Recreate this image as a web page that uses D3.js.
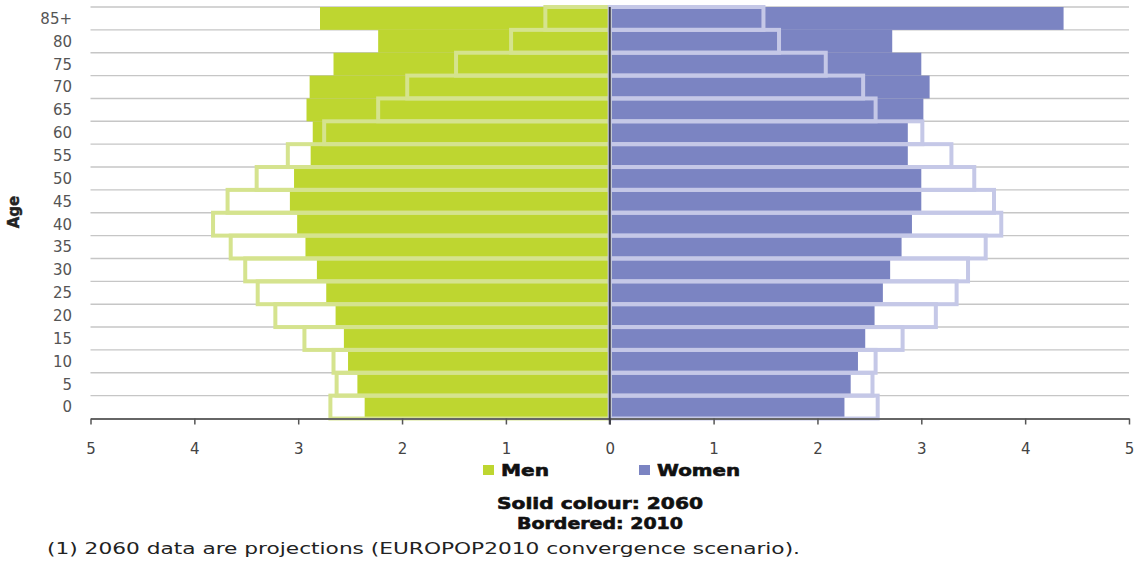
<!DOCTYPE html>
<html>
<head>
<meta charset="utf-8">
<script src="https://cdn.jsdelivr.net/npm/d3@7/dist/d3.min.js"></script>
<style>
  html, body { margin: 0; padding: 0; background: #fff; }
  svg { display: block; }
  text { font-family: "DejaVu Sans", Verdana, sans-serif; }
</style>
</head>
<body>
<svg id="chart" width="1139" height="565"></svg>
<script>
// ---- Data (percent of total population) ----
const ages = ["0","5","10","15","20","25","30","35","40","45","50","55","60","65","70","75","80","85+"];
const men2060   = [2.36,2.43,2.52,2.56,2.64,2.73,2.82,2.93,3.01,3.08,3.04,2.88,2.86,2.92,2.89,2.66,2.23,2.79];
const men2010   = [2.69,2.63,2.66,2.94,3.22,3.39,3.51,3.65,3.82,3.68,3.40,3.10,2.75,2.23,1.95,1.48,0.95,0.62];
const women2060 = [2.26,2.32,2.39,2.46,2.55,2.63,2.70,2.81,2.91,3.00,3.00,2.87,2.87,3.02,3.08,3.00,2.72,4.37];
const women2010 = [2.58,2.53,2.56,2.82,3.14,3.34,3.45,3.62,3.77,3.70,3.51,3.29,3.01,2.56,2.44,2.08,1.63,1.48];
const xTicks = [-5,-4,-3,-2,-1,0,1,2,3,4,5];
const legendLabels = ["Men", "Women"];
const captionLines = ["Solid colour: 2060", "Bordered: 2010"];
const footnote = "(1) 2060 data are projections (EUROPOP2010 convergence scenario).";
const axisTitle = "Age";

(function () {
// ---- Styles ----
const GREEN = "#bed630", GREEN_LIGHT = "#d5e38e";
const PURPLE = "#7b84c2", PURPLE_LIGHT = "#c5c8e7";

const svg = d3.select("#chart");
const pL = 90.5, pR = 1129, pT = 7, pB = 418.5;

const x = d3.scaleLinear().domain([-5, 5]).range([pL, pR]);
const y = d3.scaleBand().domain(ages.slice().reverse()).range([pT, pB]).padding(0);

const rows = ages.map((a, i) => ({age: a, m60: men2060[i], m10: men2010[i], w60: women2060[i], w10: women2010[i]}));

// gridlines at band boundaries
const bounds = ages.slice().reverse().map(a => y(a));
svg.append("g").selectAll("line").data(bounds).join("line")
  .attr("x1", pL).attr("x2", pR)
  .attr("y1", d => d).attr("y2", d => d)
  .attr("stroke", "#c6c6c6").attr("stroke-width", 1.4);

// solid bars 2060
const g = svg.append("g");
g.selectAll("rect.m60").data(rows).join("rect").attr("class", "m60")
  .attr("x", d => x(-d.m60)).attr("width", d => x(0) - x(-d.m60))
  .attr("y", d => y(d.age)).attr("height", y.bandwidth())
  .attr("fill", GREEN);
g.selectAll("rect.w60").data(rows).join("rect").attr("class", "w60")
  .attr("x", x(0)).attr("width", d => x(d.w60) - x(0))
  .attr("y", d => y(d.age)).attr("height", y.bandwidth())
  .attr("fill", PURPLE);

// bordered bars 2010
g.selectAll("rect.m10").data(rows).join("rect").attr("class", "m10")
  .attr("x", d => x(-d.m10)).attr("width", d => x(0) - x(-d.m10))
  .attr("y", d => y(d.age)).attr("height", y.bandwidth())
  .attr("fill", "none").attr("stroke", GREEN_LIGHT).attr("stroke-width", 4);
g.selectAll("rect.w10").data(rows).join("rect").attr("class", "w10")
  .attr("x", x(0)).attr("width", d => x(d.w10) - x(0))
  .attr("y", d => y(d.age)).attr("height", y.bandwidth())
  .attr("fill", "none").attr("stroke", PURPLE_LIGHT).attr("stroke-width", 4);

// x axis
const xAxis = d3.axisBottom(x).tickValues(xTicks).tickFormat(d => Math.abs(d))
  .tickSizeInner(6).tickSizeOuter(0).tickPadding(19);
const ax = svg.append("g").attr("transform", `translate(0,${pB})`).call(xAxis);
ax.select(".domain").attr("stroke", "#666").attr("stroke-width", 2);
ax.selectAll(".tick line").attr("stroke", "#555").attr("stroke-width", 1.5);
ax.selectAll(".tick text").attr("font-size", 15).attr("fill", "#444")
  .attr("font-family", "'DejaVu Sans', Verdana, sans-serif");

// centre line
svg.append("line").attr("x1", x(0)).attr("x2", x(0)).attr("y1", pT).attr("y2", pB + 6)
  .attr("stroke", "#3c3c48").attr("stroke-width", 2);

// y labels
svg.append("g").selectAll("text").data(ages).join("text")
  .attr("x", 72).attr("y", d => y(d) + y.bandwidth() / 2)
  .attr("dy", "0.36em").attr("text-anchor", "end")
  .attr("font-size", 15).attr("fill", "#555").text(d => d);

// axis title
svg.append("text").attr("transform", "translate(19,212) rotate(-90)")
  .attr("text-anchor", "middle").attr("font-size", 15).attr("font-weight", "bold")
  .attr("fill", "#222").attr("stroke", "#222").attr("stroke-width", 0.4).text(axisTitle);

// legend
const legend = [
  {label: legendLabels[0], color: GREEN, sx: 483, tx: 501, w: 48},
  {label: legendLabels[1], color: PURPLE, sx: 639, tx: 657, w: 83}
];
const lg = svg.append("g");
lg.selectAll("rect").data(legend).join("rect")
  .attr("x", d => d.sx).attr("y", 465).attr("width", 11).attr("height", 10).attr("fill", d => d.color);
lg.selectAll("text").data(legend).join("text")
  .attr("x", d => d.tx).attr("y", 476).attr("font-size", 16).attr("font-weight", "bold")
  .attr("fill", "#111").attr("stroke", "#111").attr("stroke-width", 0.6)
  .attr("textLength", d => d.w).attr("lengthAdjust", "spacingAndGlyphs")
  .text(d => d.label);

// captions
const caps = [
  {t: captionLines[0], x: 497, y: 509, w: 206},
  {t: captionLines[1], x: 517, y: 529, w: 166}
];
svg.append("g").selectAll("text").data(caps).join("text")
  .attr("x", d => d.x).attr("y", d => d.y).attr("font-size", 16).attr("font-weight", "bold")
  .attr("fill", "#111").attr("stroke", "#111").attr("stroke-width", 0.6)
  .attr("textLength", d => d.w).attr("lengthAdjust", "spacingAndGlyphs")
  .text(d => d.t);

// footnote
svg.append("text").attr("x", 47).attr("y", 554).attr("font-size", 15).attr("fill", "#222")
  .attr("textLength", 753).attr("lengthAdjust", "spacingAndGlyphs").text(footnote);
})();
</script>
</body>
</html>
